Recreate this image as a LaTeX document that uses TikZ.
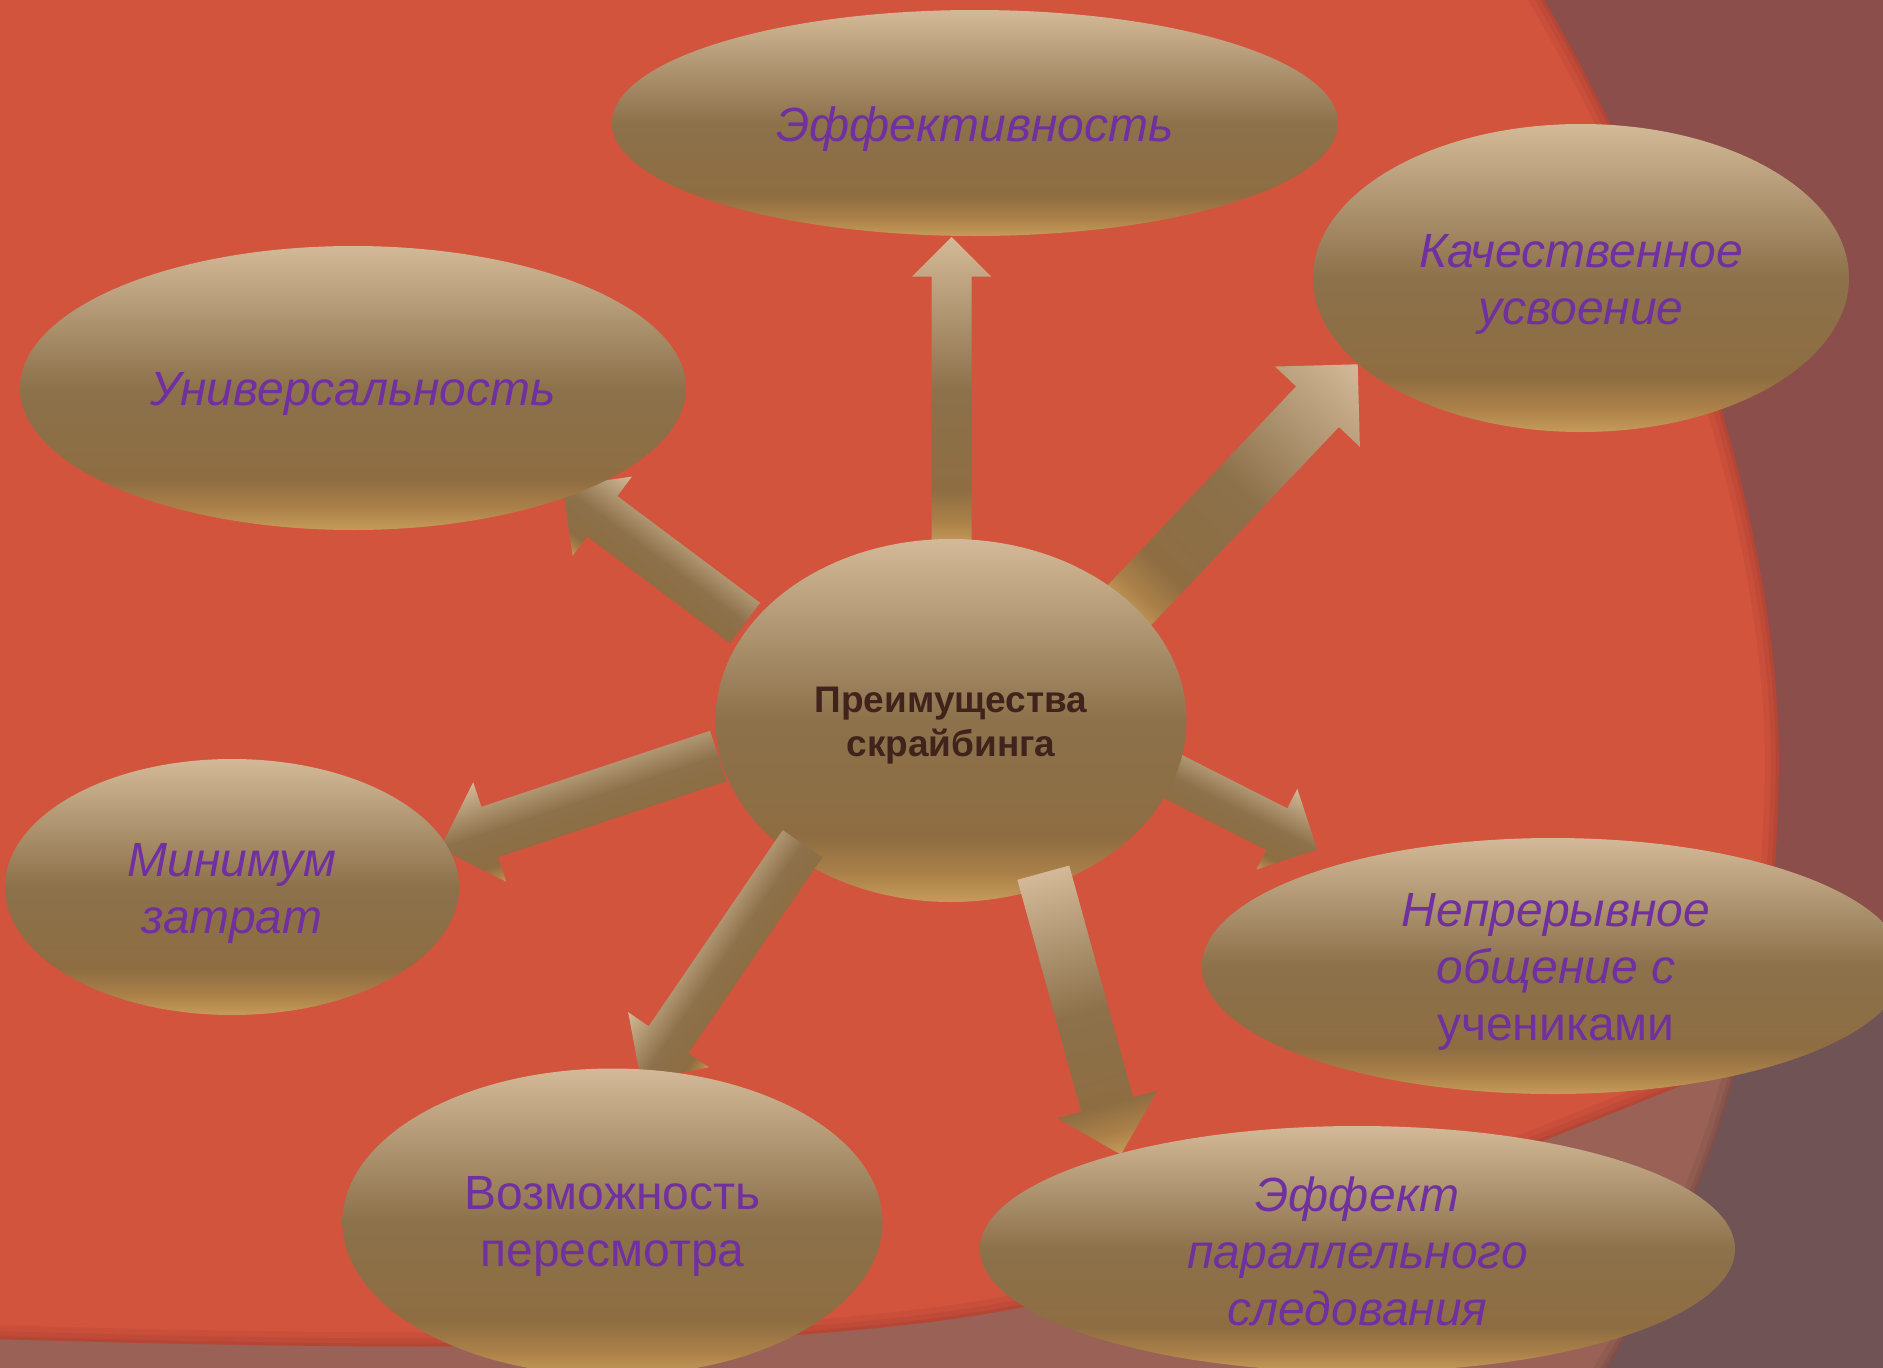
\documentclass[tikz,border=0pt]{standalone}
\usepackage{fontspec}
\setmainfont{Liberation Sans}
\usetikzlibrary{shapes.geometric}

\pgfdeclarelayer{back}
\pgfdeclarelayer{under}
\pgfsetlayers{back,under,main}

% palette
\definecolor{gLight}{RGB}{212,185,152}
\definecolor{gBrownA}{RGB}{140,113,75}
\definecolor{gBrownB}{RGB}{142,109,66}
\definecolor{gDeep}{RGB}{170,128,72}
\definecolor{gGold}{RGB}{198,155,90}
\definecolor{slideRed}{RGB}{210,84,61}
\definecolor{redEdge}{RGB}{150,52,42}
\definecolor{bandPink}{RGB}{154,98,86}
\definecolor{pinkEdge}{RGB}{105,64,62}
\definecolor{frameTop}{RGB}{140,78,74}
\definecolor{frameLow}{RGB}{111,83,85}
\definecolor{txtPurple}{RGB}{112,48,160}
\definecolor{txtBrown}{RGB}{64,35,27}

% gold gradients: light top, brown body, gold rim at the bottom
\pgfdeclareverticalshading{goldV}{100bp}{color(0bp)=(gGold); color(25bp)=(gGold); color(29bp)=(gDeep); color(34bp)=(gBrownB); color(50bp)=(gBrownA); color(75bp)=(gLight); color(100bp)=(gLight)}
\pgfdeclareverticalshading{goldVrev}{100bp}{color(0bp)=(gLight); color(25bp)=(gLight); color(50bp)=(gBrownA); color(66bp)=(gBrownB); color(71bp)=(gDeep); color(75bp)=(gGold); color(100bp)=(gGold)}
\pgfdeclarehorizontalshading{goldHup}{100bp}{color(0bp)=(gGold); color(25bp)=(gGold); color(29bp)=(gDeep); color(34bp)=(gBrownB); color(50bp)=(gBrownA); color(75bp)=(gLight); color(100bp)=(gLight)}
\pgfdeclarehorizontalshading{goldHdown}{100bp}{color(0bp)=(gLight); color(25bp)=(gLight); color(50bp)=(gBrownA); color(66bp)=(gBrownB); color(71bp)=(gDeep); color(75bp)=(gGold); color(100bp)=(gGold)}

% block arrow from coordinate #1 (tail) to coordinate #2 (tip);
% #3 half shaft width, #4 half head width (= head length), #5 shading
\newcommand\blockarrow[5]{%
  \path (#1); \pgfgetlastxy{\baTx}{\baTy}%
  \path (#2); \pgfgetlastxy{\baHx}{\baHy}%
  \pgfmathsetmacro\baAng{atan2((\baHy)-(\baTy),(\baHx)-(\baTx))}%
  \pgfmathsetmacro\baLen{veclen((\baHx)-(\baTx),(\baHy)-(\baTy))}%
  \pgfmathsetmacro\baNeck{\baLen-#4}%
  \shade[shading=#5, transform canvas={shift={(\baTx,\baTy)}, rotate=\baAng}]
    (0pt,-#3pt) -- (\baNeck pt,-#3pt) -- (\baNeck pt,-#4pt) -- (\baLen pt,0pt)
    -- (\baNeck pt,#4pt) -- (\baNeck pt,#3pt) -- (0pt,#3pt) -- cycle;
}

\tikzset{
  bubble/.style={ellipse, shade, shading=goldV, inner sep=0pt},
  caption/.style={inner sep=0pt, align=center, text=txtPurple,
    font=\fontsize{48}{57}\selectfont},
  slanted/.style={font=\itshape\fontsize{48}{57}\selectfont},
  hubtext/.style={inner sep=0pt, align=center, text=txtBrown,
    font=\bfseries\fontsize{37}{44.5}\selectfont},
}

% slide background shapes
\def\redpath{(-40,-40) -- (1520,-40) .. controls (1670,200) and (1790,540) .. (1778,800) .. controls (1773,960) and (1755,1045) .. (1700,1078) -- (1540,1142) .. controls (1250,1255) and (1100,1300) .. (930,1322) .. controls (700,1350) and (420,1352) .. (-40,1338) -- cycle}
\def\pinkpath{(-40,900) -- (1765,900) .. controls (1755,1050) and (1700,1220) .. (1600,1380) -- (1590,1420) -- (-40,1420) -- cycle}
\def\pinkrim{(1765,900) .. controls (1755,1050) and (1700,1220) .. (1600,1380)}

\begin{document}
\begin{tikzpicture}[x=1pt,y=-1pt]
\useasboundingbox (0,0) rectangle (1883,1368);

\begin{pgfonlayer}{back}
  \fill[frameTop] (-40,-40) rectangle (1930,966);
  \fill[frameLow] (-40,966) rectangle (1930,1420);
  \fill[bandPink] \pinkpath;
  \begin{scope}
    \clip \pinkpath;
    \draw[pinkEdge, line width=24, opacity=0.2] \pinkrim;
    \draw[pinkEdge, line width=12, opacity=0.2] \pinkrim;
    \draw[pinkEdge, line width=5, opacity=0.25] \pinkrim;
  \end{scope}
  \fill[slideRed] \redpath;
  \begin{scope}
    \clip \redpath;
    \draw[redEdge, line width=28, opacity=0.14] \redpath;
    \draw[redEdge, line width=16, opacity=0.18] \redpath;
    \draw[redEdge, line width=6, opacity=0.22] \redpath;
  \end{scope}
\end{pgfonlayer}

% arrow end points
\coordinate (a1s) at (951.7,545);   \coordinate (a1e) at (951.7,237);
\coordinate (a2s) at (1121.4,613.6); \coordinate (a2e) at (1357.7,364.3);
\coordinate (a3s) at (745,623);     \coordinate (a3e) at (562.6,486.6);
\coordinate (a4s) at (718.4,755.9); \coordinate (a4e) at (440,848.5);
\coordinate (a5s) at (802.5,843.7); \coordinate (a5e) at (640.9,1080.1);
\coordinate (a6s) at (1043.3,872.7); \coordinate (a6e) at (1121,1154.6);
\coordinate (a7s) at (1169.5,774.8); \coordinate (a7e) at (1317.2,849.5);

\begin{pgfonlayer}{under}
  \blockarrow{a1s}{a1e}{20}{39.5}{goldHup}
  \blockarrow{a2s}{a2e}{29.5}{58.4}{goldHup}
  \blockarrow{a3s}{a3e}{25.2}{49.5}{goldVrev}
  \blockarrow{a4s}{a4e}{26.5}{52.4}{goldVrev}
  \blockarrow{a7s}{a7e}{23.3}{45.2}{goldV}
\end{pgfonlayer}

% central idea
\node[bubble, minimum width=471pt, minimum height=363pt] (hub) at (951,720.5) {};
\node[hubtext] (hubT) at ([yshift=-5pt]hub.center) {Преимущества\\скрайбинга};

\blockarrow{a5s}{a5e}{24}{48.9}{goldVrev}
\blockarrow{a6s}{a6e}{26.9}{51.9}{goldHdown}

% surrounding advantages
\node[bubble, minimum width=726pt, minimum height=226pt] (eff) at (975,123) {};
\node[caption, slanted] (effT) at ([yshift=-6pt]eff.center) {Эффективность};

\node[bubble, minimum width=536pt, minimum height=308pt] (qual) at (1581,278) {};
\node[caption, slanted] (qualT) at ([yshift=-6pt]qual.center) {Качественное\\усвоение};

\node[bubble, minimum width=666pt, minimum height=284pt] (univ) at (353,388) {};
\node[caption, slanted] (univT) at ([yshift=-6pt]univ.center) {Универсальность};

\node[bubble, minimum width=454pt, minimum height=256pt] (cost) at (232,887) {};
\node[caption, slanted] (costT) at ([yshift=-6pt]cost.center) {Минимум\\затрат};

\node[bubble, minimum width=702pt, minimum height=256pt] (talk) at (1553,966) {};
\node[caption] (talkT) at ([xshift=3pt, yshift=-6pt]talk.center)
  {\textit{Непрерывное}\\\textit{общение с}\\учениками};

\node[bubble, minimum width=540pt, minimum height=307pt] (review) at (612.5,1222) {};
\node[caption] (reviewT) at ([yshift=-4pt]review.center) {Возможность\\пересмотра};

\node[bubble, minimum width=755pt, minimum height=246pt] (para) at (1357.5,1249) {};
\node[caption, slanted] (paraT) at ([yshift=-2pt]para.center) {Эффект\\параллельного\\следования};
\end{tikzpicture}
\end{document}
